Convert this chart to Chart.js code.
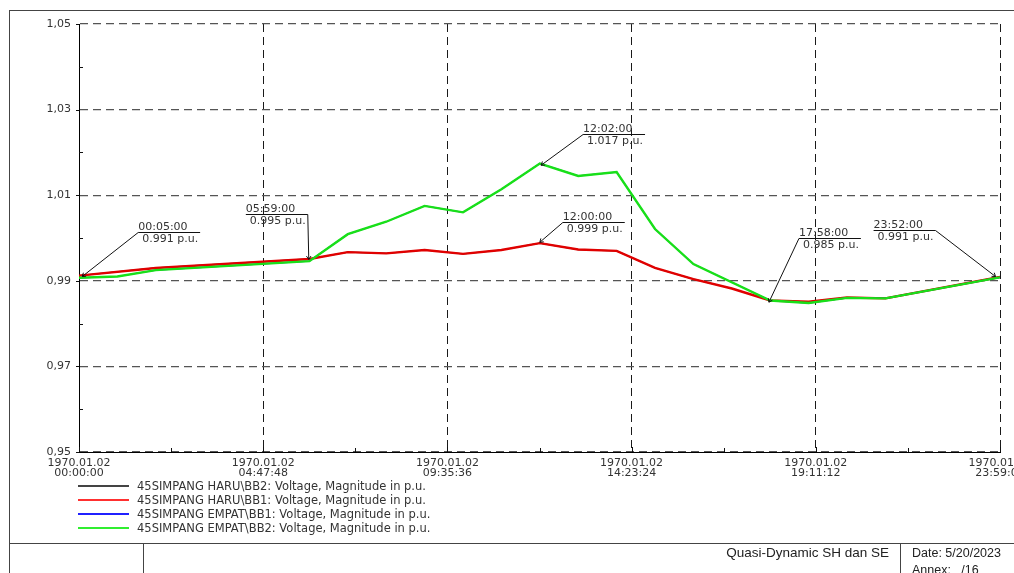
<!DOCTYPE html>
<html>
<head>
<meta charset="utf-8">
<script src="https://cdn.jsdelivr.net/npm/chart.js@4.4.0/dist/chart.umd.min.js"></script>
<style>
  html, body { margin: 0; padding: 0; background: #fff; overflow: hidden; }
  body { width: 1014px; height: 573px; position: relative; font-family: "DejaVu Sans", sans-serif; color: #333; }
  #c { position: absolute; left: 0; top: 0; }
  .ln { position: absolute; background: #444; }
  .txt { position: absolute; font-family: "Liberation Sans", Arial, sans-serif; line-height: 14px; white-space: pre; color: #222; }
  #legend { position: absolute; left: 78px; top: 479px; }
  .lg { position: relative; height: 14px; font-size: 11.5px; line-height: 14px; white-space: pre; color: #333; }
  .lg .sw { position: absolute; left: 0; top: 6px; width: 51px; height: 2px; }
  .lg .tx { position: absolute; left: 59px; top: 0; }
</style>
</head>
<body>
<canvas id="c" width="1014" height="573"></canvas>
<div id="legend"></div>
<!-- page frame -->
<div class="ln" style="left:9px;top:10px;width:1005px;height:1px;"></div>
<div class="ln" style="left:9px;top:10px;width:1px;height:563px;"></div>
<div class="ln" style="left:9px;top:543px;width:1005px;height:1px;"></div>
<div class="ln" style="left:143px;top:543px;width:1px;height:30px;"></div>
<div class="ln" style="left:900px;top:543px;width:1px;height:30px;"></div>
<div class="txt" style="right:125px;top:546px;font-size:13.5px;">Quasi-Dynamic SH dan SE</div>
<div class="txt" style="left:912px;top:546px;font-size:12.5px;">Date: 5/20/2023</div>
<div class="txt" style="left:912px;top:563px;font-size:12.5px;">Annex:   /16</div>
<script>
// ---- axis ticks ----
const xTickValues = [0, 287.8, 575.6, 863.4, 1151.2, 1439];
const xTickLabels = [
  ['1970.01.02', '00:00:00'],
  ['1970.01.02', '04:47:48'],
  ['1970.01.02', '09:35:36'],
  ['1970.01.02', '14:23:24'],
  ['1970.01.02', '19:11:12'],
  ['1970.01.02', '23:59:00']
];
const xMinorValues = [143.9, 431.7, 719.5, 1007.3, 1295.1];
const yTickValues = [0.95, 0.97, 0.99, 1.01, 1.03, 1.05];
const yTickLabels = ['0,95', '0,97', '0,99', '1,01', '1,03', '1,05'];
const yMinorValues = [0.96, 0.98, 1.00, 1.02, 1.04];

// ---- series (time in minutes since 1970.01.02 00:00:00) ----
const seriesNames = [
  '45SIMPANG HARU\\BB2: Voltage, Magnitude in p.u.',
  '45SIMPANG HARU\\BB1: Voltage, Magnitude in p.u.',
  '45SIMPANG EMPAT\\BB1: Voltage, Magnitude in p.u.',
  '45SIMPANG EMPAT\\BB2: Voltage, Magnitude in p.u.'
];
const haruTimes = [0, 120, 360, 420, 480, 540, 600, 660, 720, 780, 840, 900, 960, 1020, 1080, 1140, 1200, 1260, 1439];
const haruBB2 = [0.9912, 0.9930, 0.9951, 0.9967, 0.9964, 0.9972, 0.9963, 0.9972, 0.9988, 0.9973, 0.9970, 0.9930, 0.9904, 0.9882, 0.9854, 0.9851, 0.9861, 0.9859, 0.9909];
const haruBB1 = [0.9912, 0.9930, 0.9951, 0.9967, 0.9964, 0.9972, 0.9963, 0.9972, 0.9988, 0.9973, 0.9970, 0.9930, 0.9904, 0.9882, 0.9854, 0.9851, 0.9861, 0.9859, 0.9909];
const empatTimes = [0, 60, 120, 360, 420, 480, 540, 600, 660, 720, 780, 840, 900, 960, 1080, 1140, 1200, 1260, 1439];
const empatBB1 = [0.9907, 0.9910, 0.9925, 0.9946, 1.0009, 1.0038, 1.0075, 1.0060, 1.0114, 1.0174, 1.0145, 1.0154, 1.0021, 0.9939, 0.9854, 0.9848, 0.9860, 0.9859, 0.9908];
const empatBB2 = [0.9907, 0.9910, 0.9925, 0.9946, 1.0009, 1.0038, 1.0075, 1.0060, 1.0114, 1.0174, 1.0145, 1.0154, 1.0021, 0.9939, 0.9854, 0.9848, 0.9860, 0.9859, 0.9908];

// ---- callout markers ----
const markTimes = [5, 359, 722, 720, 1078, 1432];
const markValues = [0.991, 0.995, 1.017, 0.999, 0.985, 0.991];
const markTimeLabels = ['00:05:00', '05:59:00', '12:02:00', '12:00:00', '17:58:00', '23:52:00'];
const markValueLabels = ['0.991 p.u.', '0.995 p.u.', '1.017 p.u.', '0.999 p.u.', '0.985 p.u.', '0.991 p.u.'];
// label placement relative to marked point: [dx, dy, side]
const markPlacement = [[56, -45, 'right'], [-1, -45, 'left'], [42, -31, 'right'], [23, -20, 'right'], [30, -64, 'right'], [-60, -47, 'left']];

const FONT = '"DejaVu Sans", sans-serif';
const zip = (ts, vs) => ts.map((t, i) => ({ x: t, y: vs[i] }));

const datasets = [
  { label: seriesNames[0], data: zip(haruTimes, haruBB2), borderColor: '#222222', borderWidth: 1.2, order: 3 },
  { label: seriesNames[1], data: zip(haruTimes, haruBB1), borderColor: '#e00000', borderWidth: 2.4, order: 2 },
  { label: seriesNames[2], data: zip(empatTimes, empatBB1), borderColor: '#0000ee', borderWidth: 1.2, order: 1 },
  { label: seriesNames[3], data: zip(empatTimes, empatBB2), borderColor: '#18e018', borderWidth: 2.4, order: 0 }
].map(d => Object.assign(d, { pointRadius: 0, tension: 0, fill: false }));

const legendSwatch = ['#444444', '#ff3030', '#2020ff', '#30ee30'];

const extrasPlugin = {
  id: 'extras',
  afterDraw(chart) {
    const ctx = chart.ctx;
    const xs = chart.scales.x, ys = chart.scales.y;
    const a = chart.chartArea;
    ctx.save();
    ctx.strokeStyle = '#111';
    ctx.lineWidth = 1;
    ctx.setLineDash([]);
    // minor + major tick marks
    ctx.beginPath();
    yMinorValues.forEach(v => { const y = Math.round(ys.getPixelForValue(v)) + 0.5; ctx.moveTo(a.left, y); ctx.lineTo(a.left + 4, y); });
    xMinorValues.forEach(v => { const x = Math.round(xs.getPixelForValue(v)) + 0.5; ctx.moveTo(x, a.bottom); ctx.lineTo(x, a.bottom - 4); });
    yTickValues.forEach(v => { const y = Math.round(ys.getPixelForValue(v)) + 0.5; ctx.moveTo(a.left - 3, y); ctx.lineTo(a.left, y); });
    xTickValues.forEach(v => { const x = Math.round(xs.getPixelForValue(v)) + 0.5; ctx.moveTo(x, a.bottom); ctx.lineTo(x, a.bottom - 5); });
    ctx.stroke();

    // callouts
    ctx.font = '11px ' + FONT;
    ctx.fillStyle = '#333';
    ctx.textBaseline = 'middle';
    markTimes.forEach((t, i) => {
      const px = xs.getPixelForValue(t), py = ys.getPixelForValue(markValues[i]);
      const [dx, dy, side] = markPlacement[i];
      const w1 = ctx.measureText(markTimeLabels[i]).width;
      const w2 = ctx.measureText(markValueLabels[i]).width;
      const uw = Math.max(w1, w2 + 4) + 2;
      const uy = Math.round(py + dy) + 0.5;
      let ux0, anchorX;
      if (side === 'right') { ux0 = px + dx; anchorX = ux0; }
      else { anchorX = px + dx; ux0 = anchorX - uw; }
      ctx.strokeStyle = '#111';
      ctx.beginPath();
      ctx.moveTo(ux0, uy); ctx.lineTo(ux0 + uw, uy);
      ctx.moveTo(anchorX, uy); ctx.lineTo(px, py);
      const ang = Math.atan2(py - uy, px - anchorX);
      ctx.moveTo(px - 4 * Math.cos(ang - 0.6), py - 4 * Math.sin(ang - 0.6));
      ctx.lineTo(px, py);
      ctx.lineTo(px - 4 * Math.cos(ang + 0.6), py - 4 * Math.sin(ang + 0.6));
      ctx.stroke();
      ctx.textAlign = 'left';
      ctx.fillText(markTimeLabels[i], ux0, uy - 5.5);
      ctx.fillText(markValueLabels[i], ux0 + 4, uy + 6.5);
    });
    ctx.restore();
  }
};

const chart = new Chart(document.getElementById('c'), {
  type: 'line',
  data: { datasets },
  options: {
    responsive: false,
    animation: false,
    events: [],
    layout: { padding: { top: 24, right: 14, left: 0, bottom: 0 } },
    plugins: { legend: { display: false }, tooltip: { enabled: false } },
    scales: {
      x: {
        type: 'linear',
        min: 0,
        max: 1439,
        afterBuildTicks: s => { s.ticks = xTickValues.map(v => ({ value: v })); },
        afterFit: s => { s.height = 121; s.paddingLeft = 0; s.paddingRight = 0; },
        ticks: {
          autoSkip: false,
          maxRotation: 0,
          minRotation: 0,
          padding: 6,
          color: '#333',
          font: { family: FONT, size: 11, lineHeight: '10px' },
          callback: (v, i) => xTickLabels[i]
        },
        grid: { color: '#1a1a1a', lineWidth: 1, drawTicks: false },
        border: { display: true, color: '#000', width: 1, dash: [8, 5] }
      },
      y: {
        type: 'linear',
        min: 0.95,
        max: 1.05,
        afterBuildTicks: s => { s.ticks = yTickValues.map(v => ({ value: v })); },
        afterFit: s => { s.width = 79; s.paddingTop = 0; s.paddingBottom = 0; },
        ticks: {
          autoSkip: false,
          padding: 8,
          color: '#333',
          font: { family: FONT, size: 11 },
          callback: (v, i) => yTickLabels[i]
        },
        grid: { color: '#555', lineWidth: 1.2, drawTicks: false },
        border: { display: true, color: '#000', width: 1, dash: [8, 5] }
      }
    }
  },
  plugins: [extrasPlugin]
});

// HTML legend built from the chart's datasets
const lg = document.getElementById('legend');
chart.data.datasets.forEach((d, i) => {
  const row = document.createElement('div');
  row.className = 'lg';
  const sw = document.createElement('div');
  sw.className = 'sw';
  sw.style.background = legendSwatch[i];
  const tx = document.createElement('div');
  tx.className = 'tx';
  tx.textContent = d.label;
  row.appendChild(sw); row.appendChild(tx);
  lg.appendChild(row);
});
</script>
</body>
</html>
